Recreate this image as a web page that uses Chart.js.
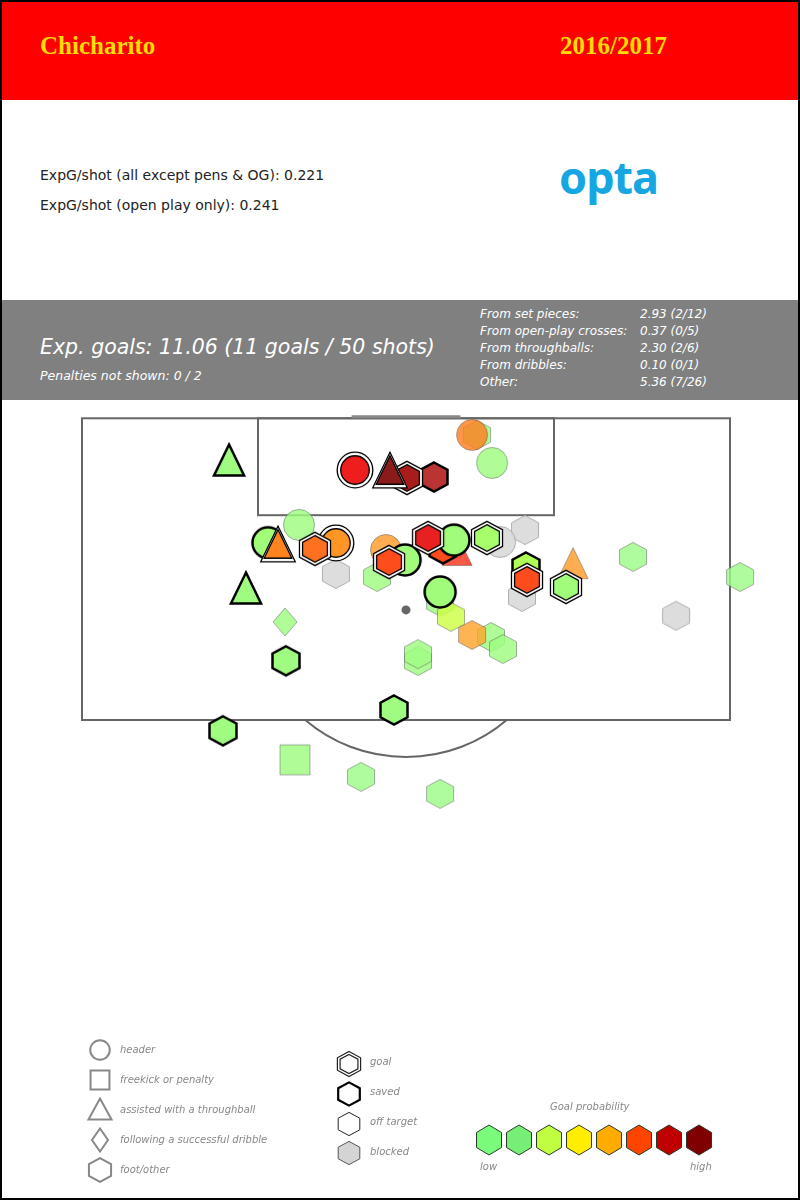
<!DOCTYPE html>
<html>
<head>
<meta charset="utf-8">
<script src="https://cdn.jsdelivr.net/npm/chart.js@4"></script>
<style>
  body { margin: 0; background: #fff; }
  #page { position: relative; width: 800px; height: 1200px; overflow: hidden; background: #fff;
          font-family: "DejaVu Sans", sans-serif; }
  #frame { position: absolute; left: 0; top: 0; width: 800px; height: 1200px; box-sizing: border-box;
           border: 2px solid #000; pointer-events: none; z-index: 5; }
  #head { position: absolute; left: 0; top: 0; width: 800px; height: 100px; background: #ff0000; }
  .title { position: absolute; top: 32px; line-height: 30px; font: bold 25px "Liberation Serif", serif; color: #ffdd00; }
  .expg { position: absolute; left: 40px; font-size: 14px; line-height: 20px; color: #222; white-space: nowrap; }
  #opta { position: absolute; left: 559px; top: 151px; font: bold 45px "Noto Sans", sans-serif;
          color: #16a6e2; letter-spacing: -1px; line-height: 52px; }
  #band { position: absolute; left: 0; top: 300px; width: 800px; height: 100px; background: #808080; color: #fff; }
  #band div { position: absolute; font-style: italic; white-space: nowrap; }
  .big { left: 40px; top: 35px; font-size: 20.5px; line-height: 24px; }
  .pen { left: 40px; top: 68px; font-size: 12.5px; line-height: 16px; }
  .row { font-size: 12px; line-height: 17px; }
  #chartBox { position: absolute; left: 0; top: 400px; width: 800px; height: 800px; }
  .lg { position: absolute; font-style: italic; font-size: 10px; line-height: 14px; color: #888; white-space: nowrap; }
</style>
</head>
<body>
<div id="page">
  <div id="head">
    <div class="title" style="left:40px">Chicharito</div>
    <div class="title" style="left:560px">2016/2017</div>
  </div>
  <div class="expg" style="top:165px">ExpG/shot (all except pens &amp; OG): 0.221</div>
  <div class="expg" style="top:195px">ExpG/shot (open play only): 0.241</div>
  <div id="opta">opta</div>
  <div id="band">
    <div class="big">Exp. goals: 11.06 (11 goals / 50 shots)</div>
    <div class="pen">Penalties not shown: 0 / 2</div>
    <div class="row" style="left:480px;top:6px">From set pieces:</div>
    <div class="row" style="left:640px;top:6px">2.93 (2/12)</div>
    <div class="row" style="left:480px;top:23px">From open-play crosses:</div>
    <div class="row" style="left:640px;top:23px">0.37 (0/5)</div>
    <div class="row" style="left:480px;top:40px">From throughballs:</div>
    <div class="row" style="left:640px;top:40px">2.30 (2/6)</div>
    <div class="row" style="left:480px;top:57px">From dribbles:</div>
    <div class="row" style="left:640px;top:57px">0.10 (0/1)</div>
    <div class="row" style="left:480px;top:74px">Other:</div>
    <div class="row" style="left:640px;top:74px">5.36 (7/26)</div>
  </div>
  <div id="chartBox"><canvas id="shots" width="800" height="800"></canvas></div>
  <div class="lg" style="left:120px;top:1043px">header</div>
  <div class="lg" style="left:120px;top:1073px">freekick or penalty</div>
  <div class="lg" style="left:120px;top:1103px">assisted with a throughball</div>
  <div class="lg" style="left:120px;top:1133px">following a successful dribble</div>
  <div class="lg" style="left:120px;top:1163px">foot/other</div>
  <div class="lg" style="left:370px;top:1055px">goal</div>
  <div class="lg" style="left:370px;top:1085px">saved</div>
  <div class="lg" style="left:370px;top:1115px">off target</div>
  <div class="lg" style="left:370px;top:1145px">blocked</div>
  <div class="lg" style="left:550px;top:1100px">Goal probability</div>
  <div class="lg" style="left:480px;top:1160px">low</div>
  <div class="lg" style="left:690px;top:1160px">high</div>
  <div id="frame"></div>
</div>
<script>
// shots, in metres: x across the pitch from the goal centre, y out from the goal line
// drawn in this order: blocked, off target, saved, goals
const shotX = [
  -4.38, 7.44, 5.88, 7.25, 16.88,
  4.44, 4.13, 5.38, -6.69, -1.25, -1.81, 3.19, 10.44, 14.19, 20.88, -7.56,
  2.13, 2.81, 5.31, 6.06, 4.13, 0.75, 0.75, -6.94, -2.81, 2.13,
  -11.06, -10.00, -8.63, -0.06, 2.31, 3.00, 1.75, 7.50, 2.13, -7.50, -0.75, -11.44,
  -3.19, 0.06, -1.00, -8.00, -4.38, -5.69, 1.38, -1.06, 5.06, 7.56, 10.00
];
const shotY = [
  8.51, 6.11, 6.76, 9.77, 10.80,
  0.91, 0.91, 2.44, 5.83, 7.20, 8.68, 7.20, 7.92, 7.58, 8.68, 11.14,
  10.04, 10.86, 11.96, 12.62, 11.85, 13.28, 12.90, 18.68, 19.61, 20.54,
  2.28, 9.28, 6.81, 7.75, 7.14, 6.66, 3.21, 8.13, 9.50, 13.26, 15.95, 17.09,
  2.83, 3.26, 2.83, 6.87, 6.82, 7.14, 6.55, 7.86, 6.55, 8.84, 9.22
];
const shotShape = [
  'hex', 'hex', 'circle', 'hex', 'hex',
  'hex', 'circle', 'circle', 'circle', 'circle', 'hex', 'tri', 'tri', 'hex', 'hex', 'diamond',
  'hex', 'hex', 'hex', 'hex', 'hex', 'hex', 'hex', 'square', 'hex', 'hex',
  'tri', 'tri', 'circle', 'circle', 'hex', 'circle', 'hex', 'hex', 'circle', 'hex', 'hex', 'hex',
  'circle', 'hex', 'tri', 'tri', 'circle', 'hex', 'hex', 'hex', 'hex', 'hex', 'hex'
];
const shotResult = [
  'blocked', 'blocked', 'blocked', 'blocked', 'blocked',
  'off', 'off', 'off', 'off', 'off', 'off', 'off', 'off', 'off', 'off', 'off',
  'off', 'off', 'off', 'off', 'off', 'off', 'off', 'off', 'off', 'off',
  'saved', 'saved', 'saved', 'saved', 'saved', 'saved', 'saved', 'saved', 'saved', 'saved', 'saved', 'saved',
  'goal', 'goal', 'goal', 'goal', 'goal', 'goal', 'goal', 'goal', 'goal', 'goal', 'goal'
];
const shotXg = [
  0.05, 0.05, 0.05, 0.05, 0.03,
  0.03, 0.40, 0.03, 0.03, 0.30, 0.03, 0.60, 0.30, 0.02, 0.02, 0.03,
  0.03, 0.15, 0.03, 0.03, 0.27, 0.03, 0.03, 0.03, 0.02, 0.02,
  0.03, 0.03, 0.04, 0.04, 0.55, 0.04, 0.75, 0.09, 0.04, 0.03, 0.03, 0.03,
  0.65, 0.85, 0.95, 0.38, 0.32, 0.45, 0.66, 0.55, 0.06, 0.55, 0.04
];

// pitch markings (metres)
const BOX_HALF_W = 20.25, BOX_DEPTH = 16.5;
const SIX_HALF_W = 9.25, SIX_DEPTH = 5.3;
const GOAL_HALF_W = 3.4;
const PEN_SPOT = 10.48;
const ARC_RX = 9.5, ARC_RY = 8.04;

// colour scale for goal probability
const XG_STOPS = [0, 0.08, 0.15, 0.25, 0.35, 0.45, 0.55, 0.65, 0.75, 0.85, 0.95];
const XG_RGB = [[152,250,152],[170,255,90],[205,255,70],[255,170,50],[255,140,32],[255,112,32],
                [255,76,28],[238,30,30],[187,52,52],[168,28,28],[139,26,26]];
const SCALE_COLORS = ['#7afc7a', '#77ef77', '#c0ff40', '#ffee00', '#ffab00', '#ff4400', '#c00000', '#800000'];

function xgColor(v) {
  let i = 0;
  while (i < XG_STOPS.length - 2 && v > XG_STOPS[i + 1]) i++;
  const t = Math.max(0, Math.min(1, (v - XG_STOPS[i]) / (XG_STOPS[i + 1] - XG_STOPS[i])));
  const a = XG_RGB[i], b = XG_RGB[i + 1];
  return 'rgb(' + a.map((c, j) => Math.round(c + (b[j] - c) * t)).join(',') + ')';
}

function tracePath(c, shape, k) {
  c.beginPath();
  if (shape === 'hex') {
    const w = 13.5 * k, h = 14.5 * k;
    c.moveTo(0, -h); c.lineTo(w, -h / 2); c.lineTo(w, h / 2);
    c.lineTo(0, h); c.lineTo(-w, h / 2); c.lineTo(-w, -h / 2); c.closePath();
  } else if (shape === 'circle') {
    c.arc(0, 0, 15.5 * k, 0, Math.PI * 2);
  } else if (shape === 'tri') {
    const r = 15.5 * k;
    c.moveTo(0, -r); c.lineTo(r * 0.97, r); c.lineTo(-r * 0.97, r); c.closePath();
  } else if (shape === 'square') {
    const r = 15 * k;
    c.rect(-r, -r, 2 * r, 2 * r);
  } else if (shape === 'diamond') {
    c.moveTo(0, -14 * k); c.lineTo(12 * k, 0); c.lineTo(0, 14 * k); c.lineTo(-12 * k, 0); c.closePath();
  }
}

function paintMarker(c, shape, result, fill) {
  if (result === 'goal') {
    tracePath(c, shape, 1.15);
    c.fillStyle = '#fff'; c.fill();
    c.strokeStyle = '#000'; c.lineWidth = 1.3; c.stroke();
    tracePath(c, shape, 0.92);
    c.fillStyle = fill; c.fill(); c.stroke();
  } else if (result === 'saved') {
    tracePath(c, shape, 1);
    c.fillStyle = fill; c.fill();
    c.strokeStyle = '#000'; c.lineWidth = 2.5; c.stroke();
  } else if (result === 'off') {
    c.globalAlpha = 0.82;
    tracePath(c, shape, 1);
    c.fillStyle = fill; c.fill();
    c.strokeStyle = 'rgba(90,90,90,0.6)'; c.lineWidth = 1; c.stroke();
    c.globalAlpha = 1;
  } else {
    c.globalAlpha = 0.9;
    tracePath(c, shape, 1);
    c.fillStyle = '#d9d9d9'; c.fill();
    c.strokeStyle = '#a8a8a8'; c.lineWidth = 1; c.stroke();
    c.globalAlpha = 1;
  }
}

const markerCache = {};
function markerFor(i) {
  const fill = xgColor(shotXg[i]);
  const key = shotShape[i] + shotResult[i] + fill;
  if (!markerCache[key]) {
    const cv = document.createElement('canvas');
    cv.width = 48; cv.height = 48;
    const c = cv.getContext('2d');
    c.translate(24, 24);
    paintMarker(c, shotShape[i], shotResult[i], fill);
    markerCache[key] = cv;
  }
  return markerCache[key];
}

const pitchLines = {
  id: 'pitchLines',
  beforeDatasetsDraw(chart) {
    const { ctx, scales: { x, y } } = chart;
    const px = v => x.getPixelForValue(v), py = v => y.getPixelForValue(v);
    ctx.save();
    ctx.strokeStyle = '#666'; ctx.lineWidth = 2;
    ctx.strokeRect(px(-BOX_HALF_W), py(0), px(BOX_HALF_W) - px(-BOX_HALF_W), py(BOX_DEPTH) - py(0));
    ctx.strokeRect(px(-SIX_HALF_W), py(0), px(SIX_HALF_W) - px(-SIX_HALF_W), py(SIX_DEPTH) - py(0));
    // arc outside the box
    const cx = px(0), cy = py(PEN_SPOT);
    const rx = px(ARC_RX) - px(0), ry = py(PEN_SPOT + ARC_RY) - cy;
    const th = Math.asin((py(BOX_DEPTH) - cy) / ry);
    ctx.beginPath(); ctx.ellipse(cx, cy, rx, ry, 0, th, Math.PI - th); ctx.stroke();
    // goal
    ctx.strokeStyle = '#888'; ctx.lineWidth = 3;
    ctx.beginPath(); ctx.moveTo(px(-GOAL_HALF_W), py(0) - 1.5); ctx.lineTo(px(GOAL_HALF_W), py(0) - 1.5); ctx.stroke();
    // penalty spot
    ctx.fillStyle = '#666';
    ctx.beginPath(); ctx.arc(cx, cy, 4.5, 0, Math.PI * 2); ctx.fill();
    ctx.restore();
  }
};

// key drawn under the pitch (canvas starts at page y = 400)
const shotKey = {
  id: 'shotKey',
  afterDraw(chart) {
    const c = chart.ctx;
    c.save();
    const grey = (sx, sy, shape, k) => {
      c.save(); c.translate(sx, sy);
      tracePath(c, shape, k);
      c.strokeStyle = '#888'; c.lineWidth = 2; c.stroke();
      c.restore();
    };
    grey(100, 650, 'circle', 0.63);
    grey(100, 680, 'square', 0.63);
    c.save(); c.translate(100, 709); c.beginPath();
    c.moveTo(0, -10.5); c.lineTo(11.5, 10.5); c.lineTo(-11.5, 10.5); c.closePath();
    c.strokeStyle = '#888'; c.lineWidth = 2; c.stroke(); c.restore();
    c.save(); c.translate(100, 740); c.beginPath();
    c.moveTo(0, -11.5); c.lineTo(8, 0); c.lineTo(0, 11.5); c.lineTo(-8, 0); c.closePath();
    c.strokeStyle = '#888'; c.lineWidth = 2; c.stroke(); c.restore();
    grey(100, 770, 'hex', 0.82);

    const hexAt = (sx, sy, fn) => { c.save(); c.translate(sx, sy); fn(); c.restore(); };
    hexAt(349, 664, () => {
      tracePath(c, 'hex', 0.86); c.strokeStyle = '#222'; c.lineWidth = 1.2; c.stroke();
      tracePath(c, 'hex', 0.66); c.stroke();
    });
    hexAt(349, 694, () => { tracePath(c, 'hex', 0.8); c.strokeStyle = '#000'; c.lineWidth = 2.2; c.stroke(); });
    hexAt(349, 724, () => { tracePath(c, 'hex', 0.8); c.strokeStyle = '#222'; c.lineWidth = 1; c.stroke(); });
    hexAt(349, 753, () => {
      tracePath(c, 'hex', 0.8); c.fillStyle = '#d4d4d4'; c.fill();
      c.strokeStyle = '#555'; c.lineWidth = 1; c.stroke();
    });

    SCALE_COLORS.forEach((col, i) => {
      c.save(); c.translate(489 + i * 30, 740);
      c.beginPath();
      const w = 12.5, h = 15;
      c.moveTo(0, -h); c.lineTo(w, -h / 2); c.lineTo(w, h / 2);
      c.lineTo(0, h); c.lineTo(-w, h / 2); c.lineTo(-w, -h / 2); c.closePath();
      c.fillStyle = col; c.fill();
      c.strokeStyle = '#2a3a2a'; c.lineWidth = 1; c.stroke();
      c.restore();
    });
    c.restore();
  }
};

new Chart(document.getElementById('shots'), {
  type: 'scatter',
  data: {
    datasets: [{
      data: shotX.map((x, i) => ({ x: x, y: shotY[i] })),
      pointStyle: ctx => markerFor(ctx.dataIndex),
      pointRadius: 12
    }]
  },
  options: {
    responsive: false,
    animation: false,
    events: [],
    layout: { padding: 0, autoPadding: false },
    scales: {
      x: { type: 'linear', min: -25.375, max: 24.625, display: false },
      y: { type: 'linear', min: -1, max: 42.75, reverse: true, display: false }
    },
    plugins: { legend: { display: false }, tooltip: { enabled: false } }
  },
  plugins: [pitchLines, shotKey]
});
</script>
</body>
</html>
